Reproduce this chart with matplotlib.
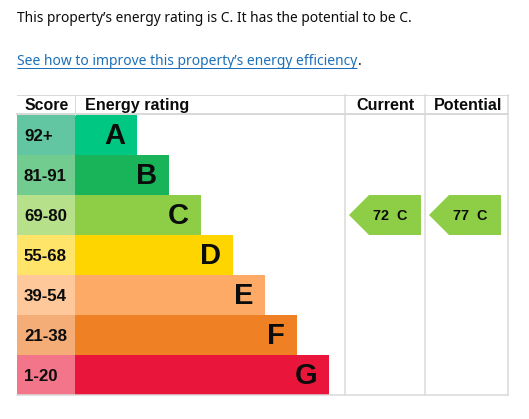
"""EPC energy rating table drawn with matplotlib"""
import matplotlib
matplotlib.use('Agg')
import matplotlib.pyplot as plt
from matplotlib.patches import Rectangle, Polygon

# rating bands, top to bottom
bands = ['A', 'B', 'C', 'D', 'E', 'F', 'G']
scores = ['92+', '81-91', '69-80', '55-68', '39-54', '21-38', '1-20']
bar_colors = ['#00c781', '#19b459', '#8dce46', '#ffd500',
              '#fcaa65', '#ef8023', '#e9153b']
score_colors = ['#62c6a3', '#72cc8f', '#b6e08a', '#ffe46a',
                '#fec89b', '#f4ad77', '#f2758a']
headers = ['Score', 'Energy rating', 'Current', 'Potential']
current_score, current_band = 72, 'C'
potential_score, potential_band = 77, 'C'
summary = "This property\u2019s energy rating is C. It has the potential to be C."
link_text = "See how to improve this property\u2019s energy efficiency"

W, H = 529, 419
TEXT = '#0b0c0c'
GRID = '#d9d9d9'
LINK = '#1d70b8'
BOLD = dict(family=['Liberation Sans', 'DejaVu Sans'], weight='bold', color=TEXT)

fig = plt.figure(figsize=(W / 100, H / 100), dpi=100)
ax = fig.add_axes([0, 0, 1, 1])
ax.set_xlim(0, W)
ax.set_ylim(H, 0)
ax.axis('off')
px = 72 / 100  # one pixel in points


def fit_width(txt, target):
    """Scale a text's font size so its drawn width matches target pixels"""
    renderer = fig.canvas.get_renderer()
    width = txt.get_window_extent(renderer).width
    txt.set_fontsize(txt.get_fontsize() * target / width)
    return txt


# layout in pixels
left, right = 17, 508
top, head_bot = 95, 115
row_h = 40
score_r = 75
cur_l, pot_l = 345, 425
bar_w0, bar_step = 62, 32

# intro text
fit_width(ax.text(left, 22, summary, fontsize=11, color=TEXT,
                  family=['Noto Sans', 'DejaVu Sans'], va='baseline'), 396)
link = fit_width(ax.text(left, 65, link_text, fontsize=11, color=LINK,
                         family=['Noto Sans', 'DejaVu Sans'], va='baseline'), 340)
ax.text(left + 341, 65, '.', fontsize=link.get_fontsize(), color=TEXT,
        family=['Noto Sans', 'DejaVu Sans'], va='baseline')
ax.plot([left, left + 340], [68, 68], color=LINK, lw=1 * px,
        solid_capstyle='butt')

# bands
for i, (band, score) in enumerate(zip(bands, scores)):
    y0 = head_bot + i * row_h
    ax.add_patch(Rectangle((left, y0), score_r - left, row_h,
                           color=score_colors[i], lw=0))
    bar_w = bar_w0 + bar_step * i
    ax.add_patch(Rectangle((score_r, y0), bar_w, row_h,
                           color=bar_colors[i], lw=0))
    ax.text(left + 7, y0 + row_h / 2 + 1, score, fontsize=12.2,
            ha='left', va='center', **BOLD)
    ax.text(score_r + bar_w - 12, y0 + row_h / 2 + 1, band, fontsize=21,
            ha='right', va='center', **BOLD)

bottom = head_bot + row_h * len(bands)

# grid lines
ax.plot([left, right], [top, top], color=GRID, lw=1 * px)
ax.plot([left, right], [head_bot - 1, head_bot - 1], color=GRID, lw=2 * px)
ax.plot([left, right], [bottom, bottom], color=GRID, lw=1.5 * px)
ax.plot([score_r, score_r], [top, head_bot], color=GRID, lw=1 * px)
for x in (cur_l, pot_l, right):
    ax.plot([x, x], [top, bottom], color=GRID, lw=1.5 * px)

# headers
ax.text(left + 8, 105.5, headers[0], fontsize=11.4, ha='left', va='center', **BOLD)
ax.text(score_r + 10, 105.5, headers[1], fontsize=11.6, ha='left', va='center', **BOLD)
ax.text((cur_l + pot_l) / 2 + 0.5, 105.5, headers[2], fontsize=11.6,
        ha='center', va='center', **BOLD)
ax.text((pot_l + right) / 2 + 1.5, 105.5, headers[3], fontsize=11.6,
        ha='center', va='center', **BOLD)


def rating_arrow(x0, score, band):
    """Pointer arrow in the row of the given band"""
    i = bands.index(band)
    y0 = head_bot + i * row_h
    x1 = x0 + 72
    tip = 20
    pts = [(x0, y0 + row_h / 2), (x0 + tip, y0), (x1, y0),
           (x1, y0 + row_h), (x0 + tip, y0 + row_h)]
    ax.add_patch(Polygon(pts, closed=True, color=bar_colors[i], lw=0))
    ax.text(x0 + 24, y0 + row_h / 2 + 0.5, '{}  {}'.format(score, band),
            fontsize=10.4, ha='left', va='center', **BOLD)


rating_arrow(cur_l + 4, current_score, current_band)
rating_arrow(pot_l + 4, potential_score, potential_band)

fig.savefig('out.png', dpi=100)
